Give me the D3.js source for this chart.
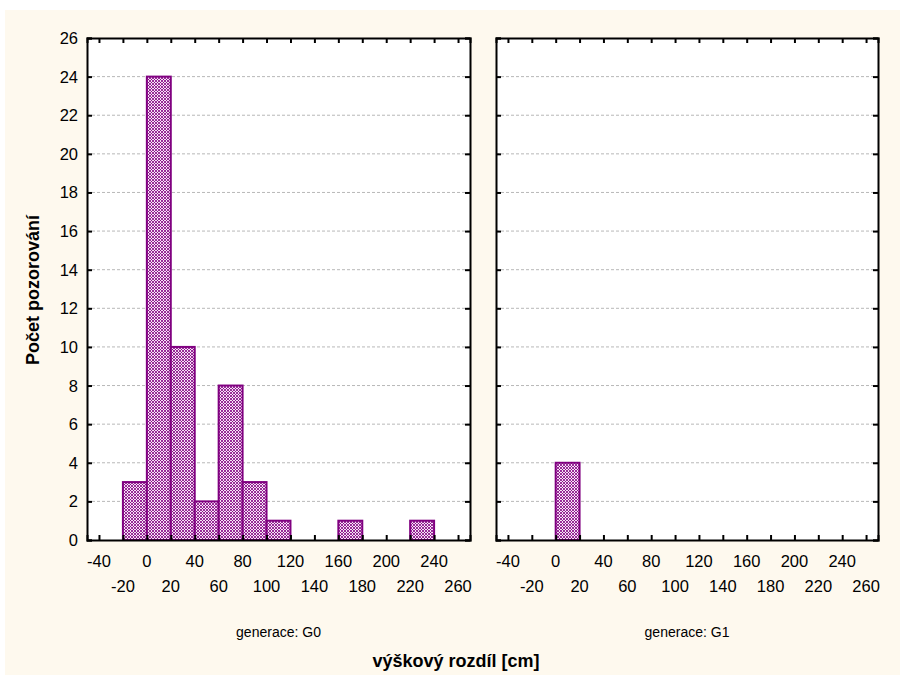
<!DOCTYPE html>
<html>
<head>
<meta charset="utf-8">
<script src="https://cdn.jsdelivr.net/npm/d3@7"></script>
<style>
  body { margin: 0; background: #ffffff; }
  svg text { font-family: "Liberation Sans", Arial, sans-serif; fill: #000; }
</style>
</head>
<body>
<svg id="chart" width="900" height="675"></svg>
<script>
// Histogram bins (lower edges, width 20 cm)
const binStarts = [-20, 0, 20, 40, 60, 80, 100, 120, 140, 160, 180, 200, 220];
const binWidth = 20;
const countsG0 = [3, 24, 10, 2, 8, 3, 1, 0, 0, 1, 0, 0, 1];
const countsG1 = [0, 4, 0, 0, 0, 0, 0, 0, 0, 0, 0, 0, 0];
const panelNames = ["generace: G0", "generace: G1"];
const xTicks = [-40, -20, 0, 20, 40, 60, 80, 100, 120, 140, 160, 180, 200, 220, 240, 260];
const yTicks = [0, 2, 4, 6, 8, 10, 12, 14, 16, 18, 20, 22, 24, 26];
const xLabel = "výškový rozdíl [cm]";
const yLabel = "Počet pozorování";

(function () {
  const svg = d3.select("#chart");
  const purple = "#800080";

  // page background
  svg.append("rect").attr("x", 5).attr("y", 10).attr("width", 895).attr("height", 665).attr("fill", "#fef9ee");

  // fine crosshatch fill for bars
  const defs = svg.append("defs");
  const pat = defs.append("pattern").attr("id", "hatch").attr("patternUnits", "userSpaceOnUse")
    .attr("width", 3).attr("height", 3);
  pat.append("rect").attr("width", 3).attr("height", 3).attr("fill", "#f6e2f6");
  pat.append("path").attr("d", "M0,0 L3,3 M3,0 L0,3").attr("stroke", purple).attr("stroke-width", 0.8);

  const plotTop = 38, plotBottom = 540;
  const panels = [{ x0: 87, x1: 470, data: countsG0, name: panelNames[0] },
                  { x0: 496, x1: 878, data: countsG1, name: panelNames[1] }];

  const y = d3.scaleLinear().domain([0, 26]).range([plotBottom, plotTop]);

  panels.forEach((p, pi) => {
    const x = d3.scaleLinear().domain([-50, 270]).range([p.x0, p.x1]);
    const g = svg.append("g");

    g.append("rect").attr("x", p.x0).attr("y", plotTop).attr("width", p.x1 - p.x0)
      .attr("height", plotBottom - plotTop).attr("fill", "#fff");

    // dashed gridlines
    g.selectAll("line.grid").data(yTicks.filter(d => d > 0 && d < 26)).join("line")
      .attr("x1", p.x0).attr("x2", p.x1).attr("y1", d => y(d)).attr("y2", d => y(d))
      .attr("stroke", "#b8b8b8").attr("stroke-width", 1).attr("stroke-dasharray", "3,2");

    // bars
    const bins = binStarts.map((s, i) => ({ s, v: p.data[i] })).filter(d => d.v > 0);
    g.selectAll("rect.bar").data(bins).join("rect")
      .attr("x", d => x(d.s)).attr("width", d => x(d.s + binWidth) - x(d.s))
      .attr("y", d => y(d.v)).attr("height", d => y(0) - y(d.v))
      .attr("fill", "url(#hatch)").attr("stroke", purple).attr("stroke-width", 2);

    // frame axes with inward ticks
    g.append("g").attr("transform", `translate(0,${plotBottom})`)
      .call(d3.axisBottom(x).tickValues(xTicks).tickSize(-5).tickFormat(""));
    g.append("g").attr("transform", `translate(0,${plotTop})`)
      .call(d3.axisTop(x).tickValues(xTicks).tickSize(-5).tickFormat(""));
    g.append("g").attr("transform", `translate(${p.x0},0)`)
      .call(d3.axisLeft(y).tickValues(yTicks).tickSize(-5).tickFormat(""));
    g.append("g").attr("transform", `translate(${p.x1},0)`)
      .call(d3.axisRight(y).tickValues(yTicks).tickSize(-5).tickFormat(""));
    g.selectAll(".domain").attr("stroke", "#000").attr("stroke-width", 2);
    g.selectAll(".tick line").attr("stroke", "#000").attr("stroke-width", 2);

    // staggered x tick labels
    g.selectAll("text.xt").data(xTicks).join("text")
      .attr("x", d => x(d)).attr("y", (d, i) => i % 2 === 0 ? 567 : 592)
      .attr("text-anchor", "middle").attr("font-size", 16.5).text(d => d);

    // y tick labels (left panel only)
    if (pi === 0) {
      g.selectAll("text.yt").data(yTicks).join("text")
        .attr("x", 78).attr("y", d => y(d) + 6)
        .attr("text-anchor", "end").attr("font-size", 16.5).text(d => d);
    }

    g.append("text").attr("x", (p.x0 + p.x1) / 2).attr("y", 637)
      .attr("text-anchor", "middle").attr("font-size", 14).text(p.name);
  });

  svg.append("text").attr("x", 456).attr("y", 667).attr("text-anchor", "middle")
    .attr("font-size", 18).attr("font-weight", "bold").text(xLabel);
  svg.append("text").attr("transform", "translate(39,290) rotate(-90)").attr("text-anchor", "middle")
    .attr("font-size", 18).attr("font-weight", "bold").text(yLabel);
})();
</script>
</body>
</html>
